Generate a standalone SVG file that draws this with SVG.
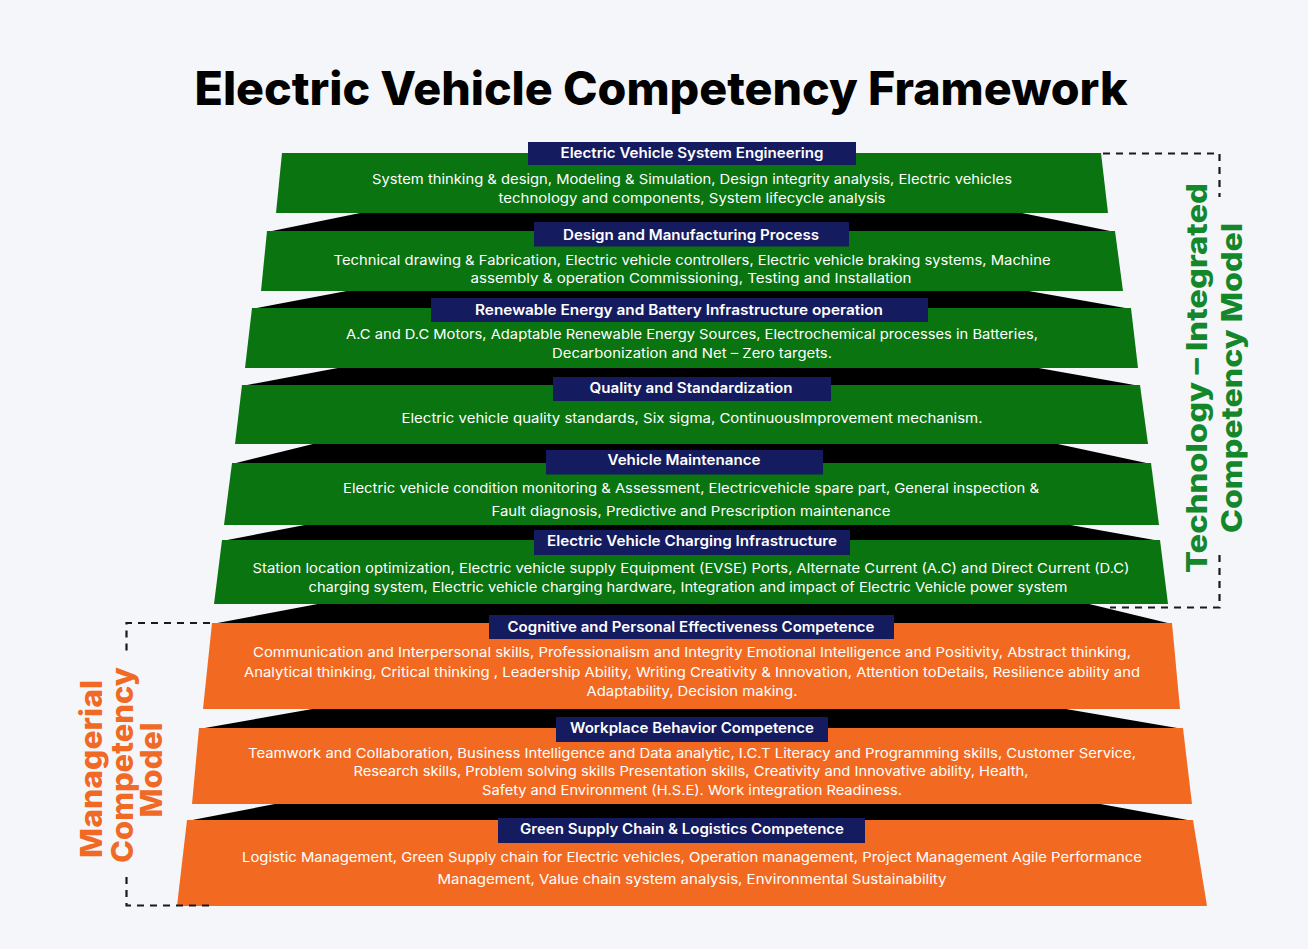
<svg xmlns="http://www.w3.org/2000/svg" width="1308" height="949" viewBox="0 0 1308 949">
  <style>
    .title { font-family: Inter, "Liberation Sans", sans-serif; font-weight: 800; font-size: 46px; fill: #000; }
    .green { fill: #0a7410; }
    .orange { fill: #f26a22; }
    .fold { fill: #000; }
    .banner { fill: #141b5e; }
    .head { font-family: Inter, "Liberation Sans", sans-serif; font-weight: 600; font-size: 14px; fill: #fff; text-anchor: middle; }
    .body { font-family: Inter, "Liberation Sans", sans-serif; font-weight: 400; font-size: 13.5px; fill: #fff; text-anchor: middle; }
    .side { font-family: Inter, "Liberation Sans", sans-serif; font-weight: 800; text-anchor: middle; }
    .side-g { fill: #14872a; font-size: 28px; }
    .side-o { fill: #f06a25; font-size: 30px; }
    .dash { fill: none; stroke: #1a1a1a; stroke-width: 2.2; stroke-dasharray: 7 6; }
  </style>
  <rect width="1308" height="949" fill="#f5f6fa"/>

  <text class="title" x="661" y="105" text-anchor="middle" textLength="933" lengthAdjust="spacingAndGlyphs">Electric Vehicle Competency Framework</text>

  <!-- dark folds between consecutive tiers -->
  <g id="folds">
    <polygon class="fold" points="365,212 1017,212 1115,232 267,232"/>
    <polygon class="fold" points="352,290 1023,290 1131,309 252,309"/>
    <polygon class="fold" points="343,367 1033,367 1140,386 242,386"/>
    <polygon class="fold" points="317,443 1053,443 1151,464 232,464"/>
    <polygon class="fold" points="310,524 1065,524 1160,541 222,541"/>
    <polygon class="fold" points="323,603 1085,603 1172,624 212,624"/>
    <polygon class="fold" points="318,708 1060,708 1183,729 199,729"/>
    <polygon class="fold" points="280,803 1095,803 1193,821 187,821"/>
  </g>

  <g id="tier-system-engineering">
    <polygon class="green" points="282,153 1101,153 1108,213 276,213"/>
    <rect class="banner" x="528" y="142" width="328" height="23"/>
    <text class="head" x="692" y="158" textLength="263" lengthAdjust="spacingAndGlyphs">Electric Vehicle System Engineering</text>
    <text class="body" x="692" y="184" textLength="640" lengthAdjust="spacingAndGlyphs">System thinking &amp; design, Modeling &amp; Simulation, Design integrity analysis, Electric vehicles</text>
    <text class="body" x="692" y="203" textLength="387" lengthAdjust="spacingAndGlyphs">technology and components, System lifecycle analysis</text>
  </g>

  <g id="tier-design-manufacturing">
    <polygon class="green" points="267,231 1115,231 1123,291 261,291"/>
    <rect class="banner" x="534" y="222" width="315" height="24.5"/>
    <text class="head" x="691" y="240" textLength="256" lengthAdjust="spacingAndGlyphs">Design and Manufacturing Process</text>
    <text class="body" x="692" y="265" textLength="717" lengthAdjust="spacingAndGlyphs">Technical drawing &amp; Fabrication, Electric vehicle controllers, Electric vehicle  braking systems, Machine</text>
    <text class="body" x="691" y="283" textLength="441" lengthAdjust="spacingAndGlyphs">assembly &amp; operation Commissioning, Testing and Installation</text>
  </g>

  <g id="tier-renewable-battery">
    <polygon class="green" points="252,308 1131,308 1138,368 245,368"/>
    <rect class="banner" x="431" y="298" width="497" height="24"/>
    <text class="head" x="679" y="315" textLength="408" lengthAdjust="spacingAndGlyphs">Renewable Energy and Battery Infrastructure operation</text>
    <text class="body" x="692" y="339" textLength="692" lengthAdjust="spacingAndGlyphs">A.C and D.C Motors, Adaptable Renewable Energy Sources, Electrochemical  processes in Batteries,</text>
    <text class="body" x="692" y="358" textLength="280" lengthAdjust="spacingAndGlyphs">Decarbonization and Net – Zero targets.</text>
  </g>

  <g id="tier-quality">
    <polygon class="green" points="242,385 1140,385 1148,444 235,444"/>
    <rect class="banner" x="553" y="377" width="278" height="24"/>
    <text class="head" x="691" y="393" textLength="203" lengthAdjust="spacingAndGlyphs">Quality and Standardization</text>
    <text class="body" x="692" y="423" textLength="581" lengthAdjust="spacingAndGlyphs">Electric vehicle quality standards, Six sigma, ContinuousImprovement mechanism.</text>
  </g>

  <g id="tier-maintenance">
    <polygon class="green" points="232,463 1151,463 1159,525 224,525"/>
    <rect class="banner" x="546" y="450" width="277" height="24.5"/>
    <text class="head" x="684" y="465" textLength="153" lengthAdjust="spacingAndGlyphs">Vehicle Maintenance</text>
    <text class="body" x="691" y="493" textLength="696" lengthAdjust="spacingAndGlyphs">Electric vehicle condition monitoring &amp; Assessment, Electricvehicle spare part, General inspection &amp;</text>
    <text class="body" x="691" y="516" textLength="399" lengthAdjust="spacingAndGlyphs">Fault diagnosis, Predictive and Prescription maintenance</text>
  </g>

  <g id="tier-charging">
    <polygon class="green" points="222,540 1160,540 1168,604 214,604"/>
    <rect class="banner" x="534" y="530" width="316" height="25"/>
    <text class="head" x="692" y="546" textLength="290" lengthAdjust="spacingAndGlyphs">Electric Vehicle Charging Infrastructure</text>
    <text class="body" x="691" y="573" textLength="877" lengthAdjust="spacingAndGlyphs">Station location optimization, Electric vehicle supply Equipment (EVSE) Ports, Alternate Current (A.C) and Direct Current (D.C)</text>
    <text class="body" x="688" y="592" textLength="759" lengthAdjust="spacingAndGlyphs">charging system, Electric vehicle charging hardware, Integration and impact of Electric Vehicle power system</text>
  </g>

  <g id="tier-cognitive">
    <polygon class="orange" points="212,623 1172,623 1180,709 203,709"/>
    <rect class="banner" x="489" y="615" width="405" height="24"/>
    <text class="head" x="691" y="632" textLength="367" lengthAdjust="spacingAndGlyphs">Cognitive and Personal Effectiveness Competence</text>
    <text class="body" x="692" y="657" textLength="878" lengthAdjust="spacingAndGlyphs">Communication and Interpersonal skills, Professionalism and Integrity Emotional Intelligence and Positivity, Abstract thinking,</text>
    <text class="body" x="692" y="677" textLength="896" lengthAdjust="spacingAndGlyphs">Analytical thinking, Critical thinking , Leadership Ability, Writing Creativity &amp; Innovation, Attention toDetails, Resilience ability and</text>
    <text class="body" x="692" y="696" textLength="211" lengthAdjust="spacingAndGlyphs">Adaptability, Decision making.</text>
  </g>

  <g id="tier-workplace">
    <polygon class="orange" points="199,728 1183,728 1192,804 192,804"/>
    <rect class="banner" x="556" y="717" width="272" height="25"/>
    <text class="head" x="692" y="733" textLength="244" lengthAdjust="spacingAndGlyphs">Workplace Behavior Competence</text>
    <text class="body" x="692" y="758" textLength="888" lengthAdjust="spacingAndGlyphs">Teamwork and Collaboration, Business Intelligence and Data analytic, I.C.T Literacy and Programming skills, Customer Service,</text>
    <text class="body" x="691" y="776" textLength="675" lengthAdjust="spacingAndGlyphs">Research skills, Problem solving skills Presentation skills, Creativity and Innovative ability, Health,</text>
    <text class="body" x="692" y="795" textLength="420" lengthAdjust="spacingAndGlyphs">Safety and Environment (H.S.E). Work integration Readiness.</text>
  </g>

  <g id="tier-green-supply">
    <polygon class="orange" points="187,820 1193,820 1207,906 177,906"/>
    <rect class="banner" x="498" y="818" width="367" height="25"/>
    <text class="head" x="682" y="834" textLength="324" lengthAdjust="spacingAndGlyphs">Green Supply Chain &amp; Logistics Competence</text>
    <text class="body" x="692" y="862" textLength="900" lengthAdjust="spacingAndGlyphs">Logistic Management, Green Supply chain for Electric vehicles, Operation management, Project Management Agile Performance</text>
    <text class="body" x="692" y="884" textLength="509" lengthAdjust="spacingAndGlyphs">Management, Value chain system analysis, Environmental Sustainability</text>
  </g>

  <!-- brackets grouping the tiers into the two models -->
  <g id="connectors">
    <path class="dash" d="M1103 153.5 H1219.5 V197"/>
    <path class="dash" d="M1219.5 555 V607.5 H1110"/>
    <path class="dash" d="M210 623 H126.5 V655"/>
    <path class="dash" d="M126.5 877 V905.5 H210"/>
  </g>

  <g id="label-technology">
    <text class="side side-g" transform="translate(1207,378) rotate(-90)" textLength="390" lengthAdjust="spacingAndGlyphs">Technology – Integrated</text>
    <text class="side side-g" transform="translate(1242,378) rotate(-90)" textLength="310" lengthAdjust="spacingAndGlyphs">Competency Model</text>
  </g>

  <g id="label-managerial">
    <text class="side side-o" transform="translate(102,769) rotate(-90)" textLength="178" lengthAdjust="spacingAndGlyphs">Managerial</text>
    <text class="side side-o" transform="translate(133,765) rotate(-90)" textLength="196" lengthAdjust="spacingAndGlyphs">Competency</text>
    <text class="side side-o" transform="translate(162,770) rotate(-90)" textLength="95" lengthAdjust="spacingAndGlyphs">Model</text>
  </g>
</svg>
